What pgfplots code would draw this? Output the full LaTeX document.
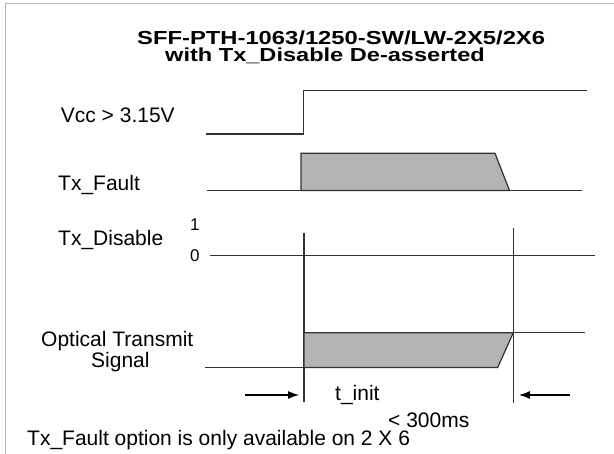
\documentclass[border=0pt]{standalone}
\usepackage{fontspec}
\setmainfont{Liberation Sans}
\usepackage{graphicx}
\usepackage{pgfplots}
\pgfplotsset{compat=1.18}
\usetikzlibrary{arrows.meta}
\definecolor{bord}{RGB}{140,195,245}
\definecolor{sig}{RGB}{50,50,50}
\definecolor{fillg}{RGB}{179,179,179}
\begin{document}
\begin{tikzpicture}
\begin{axis}[width=614pt,height=454pt,scale only axis,hide axis,
  xmin=0,xmax=614,ymin=0,ymax=454,y dir=reverse,clip=false]
% frame
\addplot[bord,line width=1.5pt] coordinates {(5.5,454) (5.5,3.3) (614,3.3)};
% Vcc
\addplot[sig,line width=1.2pt] coordinates {(206,134) (303.5,134) (303.5,90.7) (587,90.7)};
% Tx_Fault
\addplot[fill=fillg,draw=sig,line width=1.2pt] coordinates {(301,190.5) (301,153.3) (495,153.3) (509.5,190.5)} -- cycle;
\addplot[sig,line width=1.2pt] coordinates {(206.7,190.5) (301,190.5)};
\addplot[sig,line width=1.2pt] coordinates {(509.5,190.5) (581.7,190.5)};
% Tx_Disable
\addplot[sig,line width=1.2pt] coordinates {(210,255.5) (595,255.5)};
% vertical markers
\addplot[sig,line width=1.2pt] coordinates {(304,233) (304,402)};
\addplot[sig,line width=1.2pt] coordinates {(513.3,228) (513.3,403)};
% Optical transmit
\addplot[fill=fillg,draw=sig,line width=1.2pt] coordinates {(304,367.5) (304,332.7) (513.3,332.7) (497.7,367.5)} -- cycle;
\addplot[sig,line width=1.2pt] coordinates {(205,367.5) (304,367.5)};
\addplot[sig,line width=1.2pt] coordinates {(513.3,332.7) (585,332.7)};
% arrows
\addplot[black,line width=1.2pt,-{Latex[length=11pt,width=8pt]}] coordinates {(245,395) (299,395)};
\addplot[black,line width=1.2pt,-{Latex[length=11pt,width=8pt]}] coordinates {(570,395) (519,395)};
% texts
\node[anchor=base west,inner sep=0] at (axis cs:137,45) {\fontsize{20.5}{24}\selectfont\bfseries
  \vtop{\baselineskip=16.5pt\lineskiplimit=-100pt
    \hbox{\scalebox{1.16}[0.92]{SFF-PTH-1063/1250-SW/LW-2X5/2X6}}
    \hbox{\hspace*{28pt}\scalebox{1.15}[0.92]{with Tx\_Disable De-asserted}}}};
\node[anchor=base west,inner sep=0] at (axis cs:60.7,123) {\fontsize{21}{25}\selectfont Vcc > 3.15V};
\node[anchor=base west,inner sep=0] at (axis cs:58,191) {\fontsize{21}{25}\selectfont Tx\_Fault};
\node[anchor=base west,inner sep=0] at (axis cs:58,246) {\fontsize{21}{25}\selectfont Tx\_Disable};
\node[anchor=base west,inner sep=0] at (axis cs:190,231) {\fontsize{17}{20}\selectfont 1};
\node[anchor=base west,inner sep=0] at (axis cs:190,262) {\fontsize{17}{20}\selectfont 0};
\node[anchor=base west,inner sep=0] at (axis cs:41,347) {\fontsize{21}{25}\selectfont Optical Transmit};
\node[anchor=base west,inner sep=0] at (axis cs:91,368) {\fontsize{21}{25}\selectfont Signal};
\node[anchor=base west,inner sep=0] at (axis cs:335,401) {\fontsize{21}{25}\selectfont t\_init};
\node[anchor=base west,inner sep=0] at (axis cs:388,428) {\fontsize{21}{25}\selectfont < 300ms};
\node[anchor=base west,inner sep=0] at (axis cs:27,446) {\fontsize{21}{25}\selectfont Tx\_Fault option is only available on 2 X 6};
\end{axis}
\pgfresetboundingbox
\path (current axis.south west) rectangle (current axis.north east);
\end{tikzpicture}
\end{document}
